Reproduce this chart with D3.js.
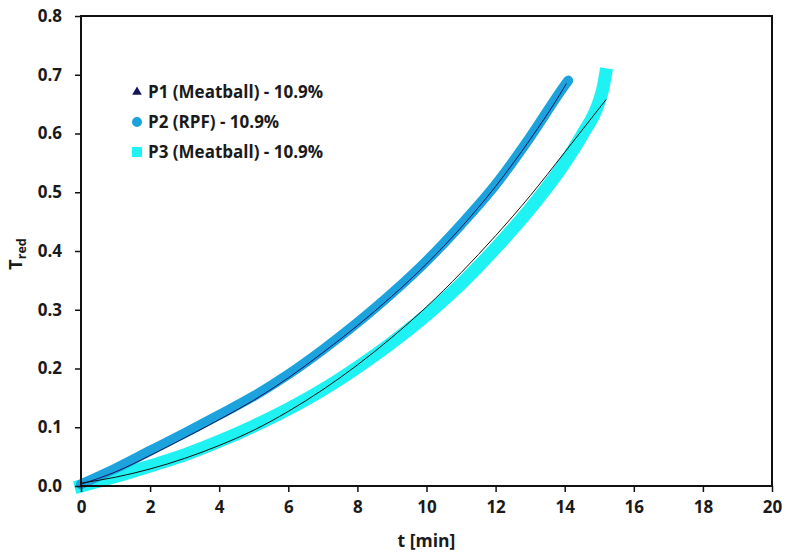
<!DOCTYPE html>
<html>
<head>
<meta charset="utf-8">
<script src="https://cdn.jsdelivr.net/npm/d3@7"></script>
<style>
  body { margin: 0; background: #fff; }
  svg text { font-family: "Open Sans", Lato, sans-serif; font-weight: bold; fill: #1a1a1a; }
</style>
</head>
<body>
<svg id="chart" width="786" height="556"></svg>
<script>
// Values
const tP1 = [0, 1, 2, 3, 4, 5, 6, 7, 8, 9, 10, 11, 12, 13, 14, 14.05];
const p1 = [0.003, 0.024, 0.052, 0.082, 0.113, 0.146, 0.184, 0.227, 0.273, 0.323, 0.378, 0.44, 0.51, 0.59, 0.68, 0.685];

const tP2 = [0, 1, 2, 3, 4, 5, 6, 7, 8, 9, 10, 11, 12, 13, 14, 14.1];
const p2 = [0.003, 0.03, 0.06, 0.09, 0.121, 0.153, 0.19, 0.232, 0.278, 0.328, 0.383, 0.445, 0.513, 0.594, 0.682, 0.69];

const tP3 = [0, 1, 2, 3, 4, 5, 6, 7, 8, 9, 10, 11, 12, 13, 14, 14.5, 15, 15.1, 15.18];
const p3 = [0, 0.016, 0.034, 0.053, 0.076, 0.102, 0.131, 0.164, 0.202, 0.244, 0.291, 0.344, 0.405, 0.472, 0.55, 0.597, 0.655, 0.675, 0.7];

const tFit = [0, 1, 2, 3, 4, 5, 6, 7, 8, 9, 10, 11, 12, 13, 14, 15, 15.2];
const fit = [0.005, 0.015, 0.029, 0.047, 0.069, 0.095, 0.127, 0.164, 0.206, 0.253, 0.305, 0.363, 0.426, 0.494, 0.568, 0.643, 0.658];

const xTicks = [0, 2, 4, 6, 8, 10, 12, 14, 16, 18, 20];
const yTicks = [0.0, 0.1, 0.2, 0.3, 0.4, 0.5, 0.6, 0.7, 0.8];

const legendLabels = ['P1 (Meatball) - 10.9%', 'P2 (RPF) - 10.9%', 'P3 (Meatball) - 10.9%'];
const colors = { p1: '#14145e', p2: '#1ca3dd', p3: '#1ff2f2' };

const svg = d3.select('#chart');
const margin = { top: 16, right: 14, bottom: 70, left: 81 };
const width = 786 - margin.left - margin.right;
const height = 556 - margin.top - margin.bottom;

const x = d3.scaleLinear().domain([0, 20]).range([0, width]);
const y = d3.scaleLinear().domain([0, 0.8]).range([height, 0]);

const g = svg.append('g').attr('transform', `translate(${margin.left},${margin.top})`);

const line = d3.line()
  .x(d => x(d[0]))
  .y(d => y(d[1]))
  .curve(d3.curveMonotoneX);

// P3 band (squares)
g.append('path')
  .datum(d3.zip(tP3, p3))
  .attr('d', line)
  .attr('fill', 'none')
  .attr('stroke', colors.p3)
  .attr('stroke-width', 13)
  .attr('stroke-linecap', 'square');

// P2 band (circles)
g.append('path')
  .datum(d3.zip(tP2, p2))
  .attr('d', line)
  .attr('fill', 'none')
  .attr('stroke', colors.p2)
  .attr('stroke-width', 10)
  .attr('stroke-linecap', 'round');

// thin lines
g.append('path')
  .datum(d3.zip(tP1, p1))
  .attr('d', line)
  .attr('fill', 'none')
  .attr('stroke', colors.p1)
  .attr('stroke-width', 1);

g.append('path')
  .datum(d3.zip(tFit, fit))
  .attr('d', line)
  .attr('fill', 'none')
  .attr('stroke', '#111')
  .attr('stroke-width', 1);

// frame
g.append('rect')
  .attr('width', width)
  .attr('height', height)
  .attr('fill', 'none')
  .attr('stroke', '#111')
  .attr('stroke-width', 2);

// axes
const xAxis = g.append('g')
  .attr('transform', `translate(0,${height})`)
  .call(d3.axisBottom(x).tickValues(xTicks).tickSize(6).tickPadding(9).tickFormat(d3.format('d')));
const yAxis = g.append('g')
  .call(d3.axisLeft(y).tickValues(yTicks).tickSize(6).tickPadding(13).tickFormat(d3.format('.1f')));

[xAxis, yAxis].forEach(a => {
  a.select('.domain').remove();
  a.selectAll('line').attr('stroke', '#111').attr('stroke-width', 1.5);
  a.selectAll('text').style('font-size', '17px').attr('fill', '#1a1a1a');
});

// axis titles
svg.append('text')
  .attr('x', margin.left + width / 2)
  .attr('y', 547)
  .attr('text-anchor', 'middle')
  .style('font-size', '17.5px')
  .text('t [min]');

const yt = svg.append('text')
  .attr('transform', 'translate(22,254) rotate(-90)')
  .attr('text-anchor', 'middle')
  .style('font-size', '18px');
yt.append('tspan').text('T');
yt.append('tspan').attr('dy', 4).style('font-size', '12.5px').text('red');

// legend
const legend = svg.append('g').attr('transform', 'translate(137,92)');
legendLabels.forEach((label, i) => {
  const row = legend.append('g').attr('transform', `translate(0,${i * 30})`);
  if (i === 0) {
    row.append('path').attr('d', d3.symbol(d3.symbolTriangle, 40)).attr('fill', colors.p1);
  } else if (i === 1) {
    row.append('circle').attr('r', 5).attr('fill', colors.p2);
  } else {
    row.append('rect').attr('x', -5).attr('y', -5).attr('width', 10).attr('height', 10).attr('fill', colors.p3);
  }
  row.append('text')
    .attr('x', 11)
    .attr('y', 6)
    .style('font-size', '17px')
    .text(label);
});
</script>
</body>
</html>
